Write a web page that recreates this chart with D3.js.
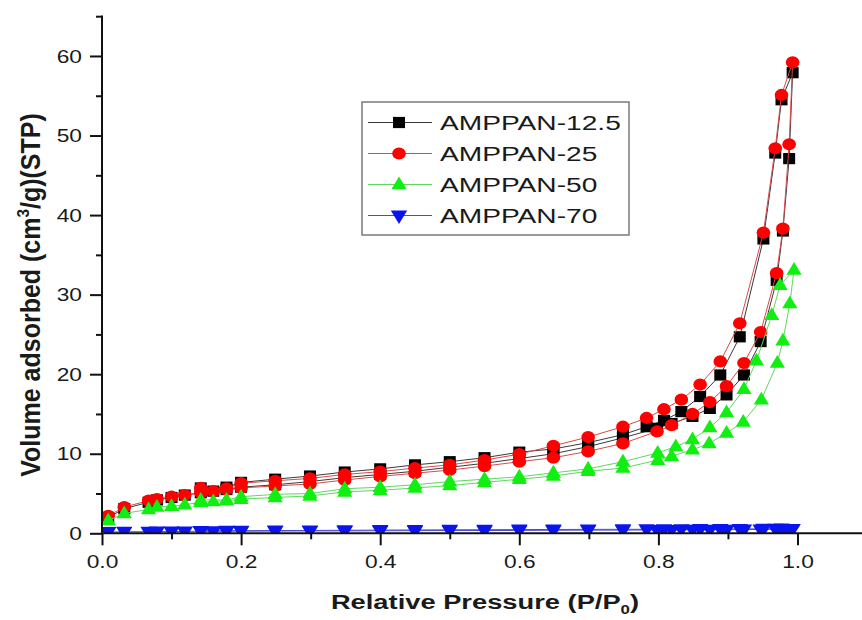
<!DOCTYPE html>
<html>
<head>
<meta charset="utf-8">
<script src="https://cdn.jsdelivr.net/npm/d3@7"></script>
<style>
  body { margin: 0; background: #fff; }
  svg { display: block; }
  text { font-family: "Liberation Sans", Arial, sans-serif; fill: #1a1a1a; }
</style>
</head>
<body>
<svg id="chart" width="862" height="620"></svg>
<script>
// Relative pressures, adsorption branch (shared by 12.5, 25 and 70)
const adsP = [0.009, 0.032, 0.067, 0.079, 0.100, 0.119, 0.142, 0.160, 0.179, 0.200,
              0.249, 0.299, 0.349, 0.400, 0.450, 0.500, 0.550, 0.600, 0.649, 0.699,
              0.749, 0.798, 0.819, 0.849, 0.874, 0.898, 0.923, 0.947, 0.970, 0.979,
              0.988, 0.993];
// Relative pressures, desorption branch
const desP = [0.977, 0.968, 0.951, 0.917, 0.889, 0.860, 0.833, 0.808, 0.783, 0.749,
              0.699, 0.649, 0.600, 0.550, 0.500, 0.450, 0.400, 0.349, 0.299, 0.249,
              0.200, 0.179, 0.142];
// AMPPAN-50 was measured at slightly different pressures near saturation
const adsP50 = [0.009, 0.032, 0.067, 0.079, 0.100, 0.119, 0.142, 0.160, 0.179, 0.200,
                0.249, 0.299, 0.349, 0.400, 0.450, 0.500, 0.550, 0.600, 0.649, 0.699,
                0.749, 0.799, 0.819, 0.849, 0.873, 0.898, 0.922, 0.948, 0.971, 0.979,
                0.989, 0.995];
const desP50 = [0.975, 0.963, 0.941, 0.923, 0.898, 0.874, 0.849, 0.825, 0.799, 0.749,
                0.699, 0.649, 0.600, 0.550, 0.500, 0.450, 0.400, 0.349, 0.299, 0.249,
                0.200, 0.179, 0.142];

// Volume adsorbed, cm3/g (STP)
const v125Ads = [2.0, 3.1, 3.9, 4.2, 4.5, 4.8, 5.1, 5.3, 5.5, 5.8,
                 6.1, 6.5, 7.0, 7.4, 7.8, 8.3, 8.8, 9.4, 10.0, 10.9,
                 12.0, 13.2, 13.8, 14.7, 15.7, 17.4, 19.9, 24.1, 31.8, 38.0,
                 47.1, 57.9];
const v125Des = [54.5, 47.8, 37.0, 24.7, 19.9, 17.2, 15.3, 14.2, 13.4, 12.4,
                 11.4, 10.6, 10.2, 9.5, 9.0, 8.6, 8.1, 7.7, 7.2, 6.8,
                 6.4, 5.8, 5.7];
const v25Ads = [2.2, 3.3, 4.1, 4.3, 4.6, 4.8, 5.1, 5.3, 5.5, 5.7,
                5.95, 6.2, 6.7, 7.15, 7.55, 7.95, 8.45, 9.0, 9.5, 10.3,
                11.3, 12.8, 13.6, 15.0, 16.5, 18.5, 21.4, 25.3, 32.7, 38.3,
                48.9, 59.2];
const v25Des = [55.1, 48.4, 37.8, 26.4, 21.6, 18.7, 16.8, 15.6, 14.5, 13.4,
                12.1, 11.0, 9.95, 9.2, 8.6, 8.2, 7.75, 7.4, 6.9, 6.6,
                6.3, 5.65, 5.7];
const v50Ads = [1.6, 2.5, 3.0, 3.3, 3.4, 3.6, 3.9, 4.0, 4.1, 4.3,
                4.5, 4.7, 5.2, 5.4, 5.7, 6.0, 6.4, 6.8, 7.2, 7.8,
                8.2, 9.2, 9.7, 10.5, 11.3, 12.6, 14.0, 16.8, 21.4, 24.2,
                28.9, 33.1];
const v50Des = [31.2, 27.4, 21.7, 18.1, 15.2, 13.3, 11.8, 10.9, 10.1, 9.0,
                8.1, 7.6, 7.1, 6.8, 6.5, 6.1, 5.8, 5.6, 5.0, 4.9,
                4.6, 4.2, 4.2];
const v70Ads = [0.15, 0.2, 0.2, 0.22, 0.22, 0.24, 0.25, 0.25, 0.26, 0.27,
                0.28, 0.3, 0.3, 0.32, 0.33, 0.35, 0.35, 0.36, 0.38, 0.4,
                0.4, 0.42, 0.42, 0.44, 0.45, 0.46, 0.47, 0.48, 0.5, 0.5,
                0.52, 0.55];
const v70Des = [0.6, 0.58, 0.56, 0.55, 0.54, 0.53, 0.52, 0.52, 0.5, 0.5,
                0.49, 0.48, 0.47, 0.45, 0.44, 0.42, 0.4, 0.38, 0.36, 0.35,
                0.33, 0.32, 0.3];

const seriesNames = ["AMPPAN-12.5", "AMPPAN-25", "AMPPAN-50", "AMPPAN-70"];
const xTicks = [0, 0.2, 0.4, 0.6, 0.8, 1.0];
const xMinor = [0.1, 0.3, 0.5, 0.7, 0.9];
const yTicks = [0, 10, 20, 30, 40, 50, 60];
const yMinor = [5, 15, 25, 35, 45, 55, 65];

// Join a branch pair into one isotherm path: adsorption up, desorption back down
function isotherm(pa, va, pd, vd) {
  return pa.map((p, i) => ({ p, v: va[i] })).concat(pd.map((p, i) => ({ p, v: vd[i] })));
}

const series = [
  { name: seriesNames[0], pts: isotherm(adsP, v125Ads, desP, v125Des), shape: "square",  fill: "#000000", line: "#3a3a3a" },
  { name: seriesNames[1], pts: isotherm(adsP, v25Ads, desP, v25Des),   shape: "circle",  fill: "#ff0000", line: "#d84a4a" },
  { name: seriesNames[2], pts: isotherm(adsP50, v50Ads, desP50, v50Des), shape: "triUp", fill: "#11ee11", line: "#5fd85f" },
  { name: seriesNames[3], pts: isotherm(adsP, v70Ads, desP, v70Des),   shape: "triDown", fill: "#0a14f0", line: "#4a4ad0" }
];

const svg = d3.select("#chart");
const SX = 1.3; // horizontal text stretch

const x = d3.scaleLinear().domain([0, 1.1]).range([102, 102 + 695.5 * 1.1]);
const y = d3.scaleLinear().domain([0, 65]).range([533.3, 16.2]);

svg.append("defs").append("clipPath").attr("id", "plotClip")
  .append("rect").attr("x", 102).attr("y", 0).attr("width", 760).attr("height", 533.3);

// Marker shapes
function marker(sel, shape, fill) {
  if (shape === "square") {
    sel.append("rect").attr("x", -6).attr("y", -5.6).attr("width", 12).attr("height", 11.2).attr("fill", fill);
  } else if (shape === "circle") {
    sel.append("ellipse").attr("rx", 6.8).attr("ry", 6.1).attr("fill", fill);
  } else if (shape === "triUp") {
    sel.append("path").attr("d", "M0,-8L7.6,4.8L-7.6,4.8Z").attr("fill", fill);
  } else {
    sel.append("path").attr("d", "M0,8.4L8.2,-5L-8.2,-5Z").attr("fill", fill);
  }
}

const plot = svg.append("g").attr("clip-path", "url(#plotClip)");
const line = d3.line().x(d => x(d.p)).y(d => y(d.v));

series.forEach(s => {
  const g = plot.append("g");
  g.append("path").datum(s.pts).attr("d", line)
    .attr("fill", "none").attr("stroke", s.line).attr("stroke-width", 1);
  g.selectAll("g.pt").data(s.pts).join("g").attr("class", "pt")
    .attr("transform", d => `translate(${x(d.p)},${y(d.v)})`)
    .each(function () { marker(d3.select(this), s.shape, s.fill); });
});

// Axes
const axisColor = "#111";
const xAxis = svg.append("g").attr("transform", "translate(0,533.3)");
xAxis.call(d3.axisBottom(x).tickValues(xTicks).tickSize(12).tickFormat(d3.format(".1f")));
const xAxisMinor = svg.append("g").attr("transform", "translate(0,533.3)");
xAxisMinor.call(d3.axisBottom(x).tickValues(xMinor).tickSize(6).tickFormat(""));
const yAxis = svg.append("g").attr("transform", "translate(102,0)");
yAxis.call(d3.axisLeft(y).tickValues(yTicks).tickSize(12));
const yAxisMinor = svg.append("g").attr("transform", "translate(102,0)");
yAxisMinor.call(d3.axisLeft(y).tickValues(yMinor).tickSize(6).tickFormat(""));

[xAxis, xAxisMinor, yAxis, yAxisMinor].forEach(a => {
  a.select(".domain").remove();
  a.selectAll(".tick line").attr("stroke", axisColor).attr("stroke-width", 2);
});
svg.append("line").attr("x1", 102).attr("x2", 862).attr("y1", 533.3).attr("y2", 533.3)
  .attr("stroke", axisColor).attr("stroke-width", 2);
svg.append("line").attr("x1", 102).attr("x2", 102).attr("y1", 15.5).attr("y2", 534.3)
  .attr("stroke", axisColor).attr("stroke-width", 2);

xAxis.selectAll(".tick text")
  .attr("y", 0).attr("dy", 0)
  .attr("transform", `translate(0,34.7) scale(${SX},1)`)
  .attr("font-size", 17.5).attr("font-family", "Liberation Sans, Arial, sans-serif").attr("fill", "#1a1a1a");
yAxis.selectAll(".tick text")
  .attr("x", 0).attr("dy", "0.35em")
  .attr("transform", `translate(-20,0) scale(${SX},1)`)
  .attr("font-size", 17.5).attr("font-family", "Liberation Sans, Arial, sans-serif").attr("fill", "#1a1a1a");

// Axis titles
const xt = svg.append("text").attr("transform", `translate(485,608.5) scale(${SX},1)`)
  .attr("text-anchor", "middle").attr("font-size", 21).attr("font-weight", "bold");
xt.append("tspan").text("Relative Pressure (P/P");
xt.append("tspan").attr("font-size", 13).attr("dy", 5).text("0");
xt.append("tspan").attr("dy", -5).text(")");

const yt = svg.append("text").attr("transform", "translate(40,295) rotate(-90) scale(1.02,1.15)")
  .attr("text-anchor", "middle").attr("font-size", 24.5).attr("font-weight", "bold");
yt.append("tspan").text("Volume adsorbed (cm");
yt.append("tspan").attr("font-size", 15).attr("dy", -10).text("3");
yt.append("tspan").attr("dy", 10).text("/g)(STP)");

// Legend
const lg = svg.append("g");
lg.append("rect").attr("x", 362).attr("y", 102).attr("width", 267).attr("height", 133)
  .attr("fill", "#fff").attr("stroke", "#7a7a7a").attr("stroke-width", 1.5);
series.forEach((s, i) => {
  const cy = 122.5 + i * 31;
  lg.append("line").attr("x1", 368).attr("x2", 432).attr("y1", cy).attr("y2", cy)
    .attr("stroke", s.line).attr("stroke-width", 1.2);
  const m = lg.append("g").attr("transform", `translate(399,${cy})`);
  marker(m, s.shape, s.fill);
  lg.append("text").attr("transform", `translate(440,${cy}) scale(1.34,1)`)
    .attr("dy", "0.36em").attr("font-size", 21).text(s.name);
});
</script>
</body>
</html>
